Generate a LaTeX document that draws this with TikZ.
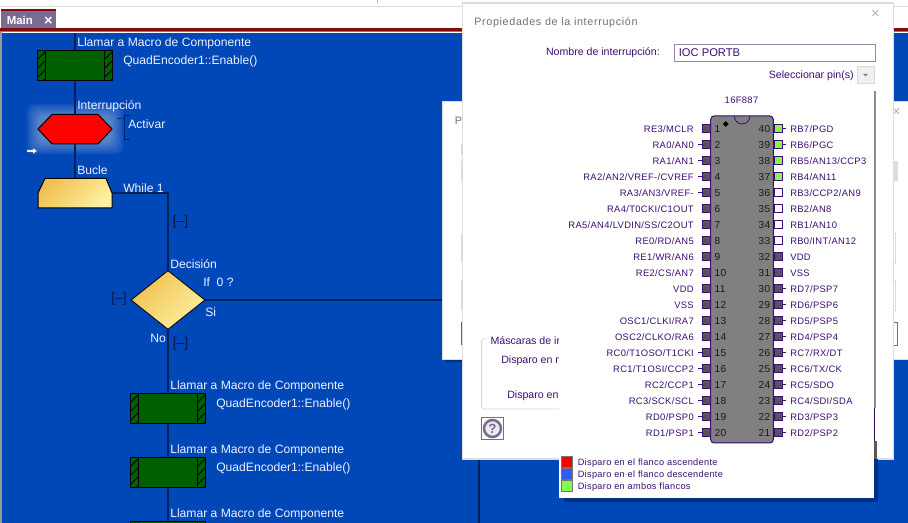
\documentclass[tikz,border=0pt]{standalone}
\usepackage{fontspec}
\setmainfont{Liberation Sans}
\newfontfamily\chipfont[LetterSpace=3.5]{Liberation Sans}
\newfontfamily\titlefont[LetterSpace=6]{Liberation Sans}
\usetikzlibrary{shapes.geometric}
\newdimen\pxu \pxu=0.75pt
\definecolor{flowblue}{HTML}{0047B8}
\definecolor{navy}{HTML}{00205C}
\definecolor{dkred}{HTML}{840A0A}
\definecolor{tabpurple}{HTML}{7B6A92}
\definecolor{frameline}{HTML}{E2DAE2}
\definecolor{labelwhite}{HTML}{EEF2FF}
\definecolor{inkpurple}{HTML}{3C0E72}
\definecolor{greyink}{HTML}{756C80}
\definecolor{padgrey}{HTML}{555555}
\definecolor{pingreen}{HTML}{80F850}
\definecolor{legblue}{HTML}{2E5CFF}
\definecolor{legreen}{HTML}{80FF50}
\definecolor{blockgreen}{HTML}{006000}
\definecolor{goldlow}{HTML}{F0C050}
\definecolor{goldhigh}{HTML}{FDF0A0}
\definecolor{shadowblue}{HTML}{00327F}
\tikzset{
  x=\pxu, y=-\pxu,
  flowlabel/.style={anchor=west,inner sep=0pt,yshift=-1.2\pxu,text=labelwhite,font=\fontsize{9.1}{10}\selectfont},
  flowline/.style={draw=navy,line width=1.1pt},
  fold/.style={anchor=west,inner sep=0pt,text=navy!80!black,font=\fontsize{10.5}{11}\selectfont},
  callblock/.style={rectangle,draw=black,line width=.75pt,fill=blockgreen,inner sep=0pt,
    minimum width=75\pxu,minimum height=30\pxu,
    path picture={
      \foreach \hx in {0,67}{
        \foreach \hy in {-8,1,10,19,28}{
          \draw[black,line width=.6pt] (path picture bounding box.north west) ++(\hx,\hy+8) -- ++(8,-8);
        }
      }
      \draw[black,line width=.9pt] (path picture bounding box.north west) ++(8,0) -- ++(0,30);
      \draw[black,line width=.9pt] (path picture bounding box.north west) ++(67,0) -- ++(0,30);
    }},
  goldfill/.style={left color=goldlow,right color=goldhigh,shading angle=45},
  dialogtext/.style={inner sep=0pt,yshift=-1\pxu,text=inkpurple,font=\fontsize{7.95}{10}\selectfont},
  piname/.style={inner sep=0pt,yshift=-.5\pxu,text=inkpurple,font=\fontsize{7.05}{9}\chipfont},
  pinnum/.style={inner sep=0pt,text=black!90,font=\fontsize{7.6}{9}\chipfont},
  pad/.style={rectangle,inner sep=0pt,minimum width=7.8\pxu,minimum height=7.8\pxu,draw=inkpurple,line width=.45pt},
  stub/.style={draw=inkpurple,line width=.6pt},
  legendlabel/.style={anchor=west,inner sep=0pt,yshift=-.5\pxu,text=inkpurple,font=\fontsize{6.9}{9}\chipfont},
  swatch/.style={rectangle,inner sep=0pt,minimum width=11.5\pxu,minimum height=11.5\pxu,draw=black!55,line width=.5pt},
}
\begin{document}
\begin{tikzpicture}
\clip (0,0) rectangle (908,523);
% window chrome
\fill[white] (0,0) rectangle (908,33);
\draw[frameline,line width=.8pt] (0,6.5) -- (908,6.5);
\draw[black!30,line width=.5pt] (377,0) -- (377,3);
\fill[flowblue] (0,33) rectangle (908,523);
\fill[black!40] (0,31) rectangle (2,523);
\fill[dkred] (0,28) rectangle (908,31);
\fill[black!50] (0,31) rectangle (908,32.5);
\fill[tabpurple] (1,9) rectangle (56,28);
\fill[dkred] (1,9) rectangle (56,11.5);
\node[anchor=west,inner sep=0pt,text=white,font=\bfseries\fontsize{8.6}{10}\selectfont] (tabname) at (6.5,20) {Main};
\node[inner sep=0pt,text=white,font=\bfseries\fontsize{11}{11}\selectfont] (tabclose) at (48.5,21) {×};
% glow
\foreach \g in {0,1,...,13}{
  \fill[white,opacity=.03,rounded corners=6] (26+\g,103+\g) rectangle (124-\g,155-\g);
}
% flow shapes
\coordinate (topin) at (75,33);
\node[callblock] (call1) at (75,65.5) {};
\node[inner sep=0pt,minimum width=74\pxu,minimum height=30\pxu] (irq) at (75,129) {};
\fill[red,draw=black,line width=.75pt] (38,129) -- (52,114.5) -- (98,114.5) -- (112,129) -- (98,144) -- (52,144) -- cycle;
\node[inner sep=0pt,minimum width=74\pxu,minimum height=30\pxu] (loop) at (75,193) {};
\shade[goldfill,draw=black,line width=.75pt] (38,193) -- (45,178.5) -- (106,178.5) -- (112,193) -- (112,208) -- (38,208) -- cycle;
\node[diamond,goldfill,draw=black,line width=.6pt,inner sep=0pt,minimum width=74\pxu,minimum height=59\pxu,shape aspect=1.25] (dec) at (168,300) {};
\node[callblock] (call2) at (168,408.5) {};
\node[callblock] (call3) at (168,472.5) {};
\node[callblock] (call4) at (168,536.5) {};
\coordinate (loopcorner) at (168,193);
\coordinate (yesend) at (443,300);
\coordinate (sidetop) at (479,459);
\coordinate (sidebot) at (479,523);
% connectors
\draw[flowline] (topin) -- (call1.north);
\draw[flowline] (call1.south) -- (irq.north);
\draw[flowline] (irq.south) -- (loop.north);
\draw[flowline] (loop.east) -- (loopcorner) -- (dec.north);
\draw[flowline] (dec.east) -- (yesend);
\draw[flowline] (dec.south) -- (call2.north);
\draw[flowline] (call2.south) -- (call3.north);
\draw[flowline] (call3.south) -- (call4.north);
\draw[flowline] (sidetop) -- (sidebot);
% flow labels
\node[flowlabel] (l1) at (77,42) {Llamar a Macro de Componente};
\node[flowlabel] (l2) at (123,60) {QuadEncoder1::Enable()};
\node[flowlabel] (l3) at (77,105.5) {Interrupción};
\node[flowlabel] (l4) at (128,122.5) {Activar};
\node[flowlabel] (l5) at (77,168.5) {Bucle};
\node[flowlabel] (l6) at (123,186.5) {While 1};
\node[flowlabel] (l7) at (170,263) {Decisión};
\node[flowlabel] (l8) at (203,280.5) {If\ \ 0 ?};
\node[flowlabel] (l9) at (205,310.5) {Si};
\node[flowlabel] (l10) at (150,337.5) {No};
\node[flowlabel] (l11) at (170,385) {Llamar a Macro de Componente};
\node[flowlabel] (l12) at (216,403) {QuadEncoder1::Enable()};
\node[flowlabel] (l13) at (170,449) {Llamar a Macro de Componente};
\node[flowlabel] (l14) at (216,467) {QuadEncoder1::Enable()};
\node[flowlabel] (l15) at (170,513) {Llamar a Macro de Componente};
% folds
\node[fold] (f1) at (172.5,222) {[–]};
\node[fold] (f2) at (111,299) {[–]};
\node[fold] (f3) at (172.5,344) {[–]};
\draw[navy,line width=.7pt] (130,115) -- (124.5,115) -- (124.5,139) -- (130,139);
\draw[navy,line width=.5pt] (117,119) -- (124.5,117.5);
% little arrow
\fill[white,draw=black!50,line width=.3pt] (27,150) -- (33,150) -- (33,148) -- (37,151) -- (33,154) -- (33,152) -- (27,152) -- cycle;
% back dialog
\fill[shadowblue] (445,359) rectangle (463,362);
\fill[white,draw=frameline,line width=.6pt] (442.5,101) rectangle (912,359);
\node[anchor=west,inner sep=0pt,yshift=-1\pxu,text=greyink,font=\fontsize{8.1}{10}\titlefont] (backtitle) at (454.5,120) {Pr};
\node[inner sep=0pt,text=black!30,font=\fontsize{11}{11}\selectfont] (backclose) at (896.5,112) {×};
\fill[orange!40] (461,145) rectangle (463,154);
\fill[frameline] (461,161) rectangle (463,181);
\fill[frameline] (461,234) rectangle (463,262);
\fill[frameline] (461,280) rectangle (463,310);
\fill[black!60] (461,322) rectangle (463,345);
\fill[frameline] (893,161) rectangle (897.5,181);
\draw[frameline,line width=.5pt] (893,233) -- (895,233) -- (895,263) -- (893,263);
\draw[frameline,line width=.5pt] (893,280) -- (895,280) -- (895,310) -- (893,310);
\draw[greyink,line width=.5pt] (893,322) -- (897,322) -- (897,345) -- (893,345);
% front dialog
\fill[white,draw=frameline,line width=.8pt] (462.5,3) rectangle (893.5,459);
\node[anchor=west,inner sep=0pt,yshift=-1.2\pxu,text=greyink,font=\fontsize{8.1}{10}\titlefont] (title) at (474,21.5) {Propiedades de la interrupción};
\node[inner sep=0pt,text=black!30,font=\fontsize{11}{11}\selectfont] (closex) at (875.5,14) {×};
\node[dialogtext,anchor=east] (namelab) at (660,51.5) {Nombre de interrupción:};
\node[anchor=west,draw=tabpurple!80,line width=.75pt,fill=white,inner sep=0pt,minimum width=201\pxu,minimum height=17.5\pxu] (namebox) at (674,53) {};
\node[anchor=west,inner sep=0pt,text=inkpurple,font=\fontsize{8.4}{10}\selectfont] (nameval) at (678.5,52.5) {IOC PORTB};
\node[dialogtext,anchor=east] (pinsel) at (854,74.5) {Seleccionar pin(s)};
\node[rectangle,draw=black!15,fill=black!6,inner sep=0pt,minimum width=17\pxu,minimum height=17\pxu] (pinbtn) at (865.5,75) {};
\fill[black!50] (863,74) -- (868,74) -- (865.5,76.5) -- cycle;
% group box
\draw[black!15,line width=.6pt,rounded corners=2] (487,339) -- (481.5,339) -- (481.5,409) -- (559,409);
\node[dialogtext,anchor=west,fill=white,inner xsep=1pt] (maskt) at (489,339.5) {Máscaras de ir};
\node[dialogtext,anchor=west] (mask1) at (501,359.5) {Disparo en n};
\node[dialogtext,anchor=west] (mask2) at (507,394.5) {Disparo en};
% help icon
\node[rectangle,draw=black!55,line width=.6pt,inner sep=0pt,minimum width=22\pxu,minimum height=22\pxu] (helpbox) at (492.5,428.5) {};
\node[circle,draw=tabpurple,fill=tabpurple!15,line width=1.9pt,inner sep=0pt,minimum size=17\pxu,text=tabpurple,font=\bfseries\fontsize{10}{10}\selectfont] (helpq) at (492.5,428.5) {?};
% chip panel
\fill[shadowblue] (564,459) rectangle (878,502);
\fill[black!45] (874,91) rectangle (876,408);
\fill[inkpurple!70!black] (874,408) rectangle (875,441);
\fill[black!65] (874,441) rectangle (876.5,459);
\fill[white] (559,92) rectangle (874,498);
% chip
\node[piname] (chipname) at (741.5,99.5) {16F887};
\node[rectangle,rounded corners=2.5,draw=inkpurple,line width=.75pt,fill=black!50,inner sep=0pt,minimum width=62.6\pxu,minimum height=327\pxu] (chip) at (742,279.5) {};
\draw[inkpurple,line width=.6pt] (734.3,116) arc[start angle=180,end angle=0,x radius=7.8,y radius=8];
\node[diamond,fill=black,inner sep=0pt,minimum size=6\pxu] (dot) at (725.7,124) {};
\foreach \n/\lab/\st in {
  1/{RE3/MCLR}/0,2/{RA0/AN0}/1,3/{RA1/AN1}/1,4/{RA2/AN2/VREF-/CVREF}/1,5/{RA3/AN3/VREF-}/1,
  6/{RA4/T0CKI/C1OUT}/0,7/{RA5/AN4/LVDIN/SS/C2OUT}/0,8/{RE0/RD/AN5}/0,9/{RE1/WR/AN6}/0,10/{RE2/CS/AN7}/0,
  11/{VDD}/0,12/{VSS}/0,13/{OSC1/CLKI/RA7}/0,14/{OSC2/CLKO/RA6}/0,15/{RC0/T1OSO/T1CKI}/1,
  16/{RC1/T1OSI/CCP2}/1,17/{RC2/CCP1}/1,18/{RC3/SCK/SCL}/1,19/{RD0/PSP0}/1,20/{RD1/PSP1}/1}{
  \pgfmathsetmacro\yy{128.3+16*(\n-1)}
  \node[pad,fill=padgrey] (padL\n) at (706,\yy) {};
  \node[pinnum,anchor=west] (numL\n) at (714.3,\yy+.5) {\n};
  \node[piname,anchor=east] (nameL\n) at (694,\yy) {\lab};
  \ifnum\st=1 \coordinate (endL\n) at (698,\yy); \draw[stub] (padL\n.west) -- (endL\n); \fi
}
\foreach \n/\lab/\st/\col in {
  40/{RB7/PGD}/1/pingreen,39/{RB6/PGC}/1/pingreen,38/{RB5/AN13/CCP3}/0/pingreen,37/{RB4/AN11}/0/pingreen,
  36/{RB3/CCP2/AN9}/0/white,35/{RB2/AN8}/0/white,34/{RB1/AN10}/0/white,33/{RB0/INT/AN12}/0/white,
  32/{VDD}/0/padgrey,31/{VSS}/0/padgrey,30/{RD7/PSP7}/1/padgrey,29/{RD6/PSP6}/1/padgrey,28/{RD5/PSP5}/1/padgrey,
  27/{RD4/PSP4}/1/padgrey,26/{RC7/RX/DT}/1/padgrey,25/{RC6/TX/CK}/1/padgrey,24/{RC5/SDO}/1/padgrey,
  23/{RC4/SDI/SDA}/1/padgrey,22/{RD3/PSP3}/1/padgrey,21/{RD2/PSP2}/1/padgrey}{
  \pgfmathsetmacro\yy{128.3+16*(40-\n)}
  \node[pad,fill=\col] (padR\n) at (778,\yy) {};
  \node[pinnum,anchor=east] (numR\n) at (770.5,\yy+.5) {\n};
  \node[piname,anchor=west] (nameR\n) at (790,\yy) {\lab};
  \ifnum\st=1 \coordinate (endR\n) at (786,\yy); \draw[stub] (padR\n.east) -- (endR\n); \fi
}
% legend
\node[swatch,fill=red] (sw1) at (567,462) {};
\node[swatch,fill=legblue] (sw2) at (567,474) {};
\node[swatch,fill=legreen] (sw3) at (567,486) {};
\node[legendlabel] (lg1) at (577.5,463) {Disparo en el flanco ascendente};
\node[legendlabel] (lg2) at (577.5,475) {Disparo en el flanco descendente};
\node[legendlabel] (lg3) at (577.5,487) {Disparo en ambos flancos};
\end{tikzpicture}
\end{document}
